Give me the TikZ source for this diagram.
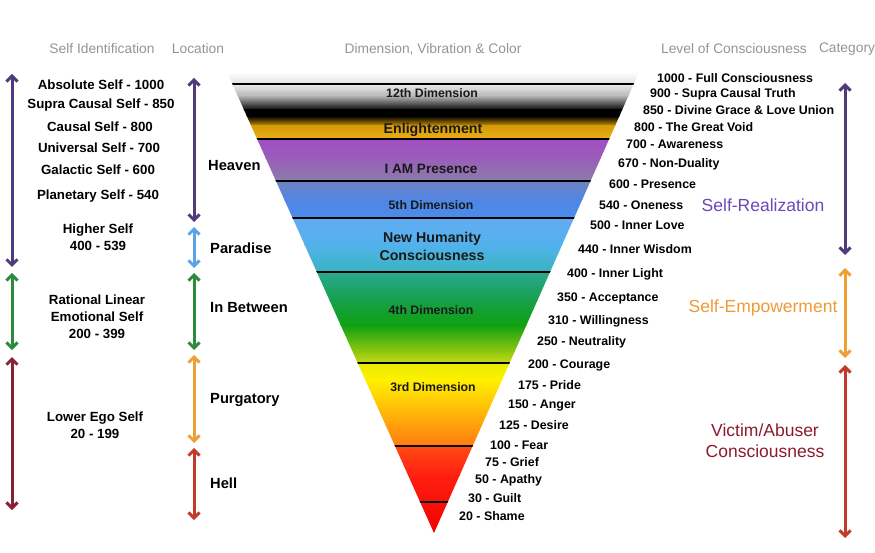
\documentclass[tikz,border=0pt]{standalone}
\usepackage{fontspec}
\setmainfont{Liberation Sans}
\usetikzlibrary{arrows.meta}

\definecolor{arrpurple}{HTML}{4D3B7E}
\definecolor{arrsky}{HTML}{5BA3E8}
\definecolor{arrgreen}{HTML}{2E8A3C}
\definecolor{arrmaroon}{HTML}{8A1F38}
\definecolor{arrorange}{HTML}{ECA035}
\definecolor{arrred}{HTML}{C3392A}
\definecolor{txtpurple}{HTML}{6B48B8}
\definecolor{txtorange}{HTML}{EE9A38}
\definecolor{txtmaroon}{HTML}{8B1A30}

\definecolor{goldA}{HTML}{D89C08}
\definecolor{goldB}{HTML}{EAAE14}
\definecolor{purA}{HTML}{A04FC2}
\definecolor{purB}{HTML}{9A5DBA}
\definecolor{purC}{HTML}{8A7DAA}
\definecolor{bluA}{HTML}{6E82C4}
\definecolor{bluB}{HTML}{4F86E4}
\definecolor{bluC}{HTML}{4A8CEC}
\definecolor{skyA}{HTML}{62ACF2}
\definecolor{skyB}{HTML}{52B2EC}
\definecolor{tealA}{HTML}{36B4BE}
\definecolor{tealB}{HTML}{2AA890}
\definecolor{grnA}{HTML}{15A04A}
\definecolor{grnB}{HTML}{10A010}
\definecolor{ylgA}{HTML}{C8DA10}
\definecolor{ylwA}{HTML}{E8EC00}
\definecolor{ylwB}{HTML}{FFF000}
\definecolor{orgA}{HTML}{FF7A10}
\definecolor{redA}{HTML}{FF4A12}
\definecolor{redB}{HTML}{FF2010}
\definecolor{redC}{HTML}{F00000}

\begin{document}
\begin{tikzpicture}[x=1pt, y=-1pt, inner sep=0pt,
    hdr/.style = {text=black!42, font=\fontsize{13.8}{16}\selectfont},
    self/.style = {font=\bfseries\fontsize{13.3}{17}\selectfont, align=center},
    loc/.style = {anchor=west, font=\bfseries\fontsize{14.7}{17}\selectfont},
    lvl/.style = {anchor=west, font=\bfseries\fontsize{12.4}{14}\selectfont},
    dim/.style = {text=black!90, font=\bfseries\fontsize{12.3}{18}\selectfont, align=center},
    cat/.style = {font=\fontsize{17.5}{21}\selectfont, align=center},
    span/.style = {line width=3pt, {Straight Barb[length=5.5pt,width=11pt]}-{Straight Barb[length=5.5pt,width=11pt]}}]

        \useasboundingbox (0,0) rectangle (875,553);

        % column heads
        \node[hdr] (hself) at (102,49) {Self Identification};
        \node[hdr] (hloc) at (198,49) {Location};
        \node[hdr] (hdim) at (433,49) {Dimension, Vibration \& Color};
        \node[hdr] (hlvl) at (734,49) {Level of Consciousness};
        \node[hdr] (hcat) at (847,49) {Category};

        % the cone
        \begin{scope}
            \clip (227,72) -- (639,72) -- (434,533) -- cycle;
            \foreach \ya/\yb/\ca/\cb in {72/84/white/gray!25, 84/96/gray!15/gray!60, 96/110/gray!60/black,
                    110/116/black/black, 116/126/black/goldA, 126/139/goldA/goldB,
                    139/158/purA/purB, 158/181/purB/purC, 181/200/bluA/bluB, 200/218/bluB/bluC,
                    218/245/skyA/skyB, 245/272/skyB/tealA, 272/300/tealB/grnA, 300/325/grnA/grnB,
                    325/363/grnB/ylgA, 363/380/ylwA/ylwB, 380/446/ylwB/orgA, 446/475/redA/redB,
                    475/533/redB/redC}
                \shade[top color=\ca, bottom color=\cb] (220,\ya) rectangle (650,\yb+0.6);
            \foreach \yy in {84,139,181,218,272,363,446,502}
                \draw[line width=1.2pt] (220,\yy) -- (650,\yy);
        \end{scope}

        \node[dim] (d12) at (432,93) {12th Dimension};
        \node[dim, font=\bfseries\fontsize{14.2}{16}\selectfont] (enl) at (433,130) {Enlightenment};
        \node[dim, font=\bfseries\fontsize{13.6}{16}\selectfont] (iam) at (431,169) {I AM Presence};
        \node[dim] (d5) at (431,205) {5th Dimension};
        \node[dim, font=\bfseries\fontsize{14.2}{18}\selectfont] (nhc) at (432,246) {New Humanity\\Consciousness};
        \node[dim] (d4) at (431,310) {4th Dimension};
        \node[dim] (d3) at (433,387) {3rd Dimension};

        % self identification
        \node[self] (s1000) at (101,85) {Absolute Self - 1000};
        \node[self] (s850) at (101,105) {Supra Causal Self - 850};
        \node[self] (s800) at (100,127) {Causal Self - 800};
        \node[self] (s700) at (99,148) {Universal Self - 700};
        \node[self] (s600) at (98,170) {Galactic Self - 600};
        \node[self] (s540) at (98,196) {Planetary Self - 540};
        \node[self] (shigh) at (98,237) {Higher Self\\400 - 539};
        \node[self] (srat) at (97,317) {Rational Linear\\Emotional Self\\200 - 399};
        \node[self] (sego) at (95,425) {Lower Ego Self\\20 - 199};

        \coordinate (sa) at (12,74);
        \coordinate (sb) at (12,267);
        \coordinate (sc) at (12,273);
        \coordinate (sd) at (12,350);
        \coordinate (se) at (12,357);
        \coordinate (sf) at (12,510);
        \draw[span, arrpurple] (sa) -- (sb);
        \draw[span, arrgreen] (sc) -- (sd);
        \draw[span, arrmaroon] (se) -- (sf);

        % location
        \node[loc] (heaven) at (208,166) {Heaven};
        \node[loc] (paradise) at (210,248) {Paradise};
        \node[loc] (between) at (210,308) {In Between};
        \node[loc] (purgatory) at (210,400) {Purgatory};
        \node[loc] (hell) at (210,483) {Hell};

        \coordinate (la) at (194,78);
        \coordinate (lb) at (194,222);
        \coordinate (lc) at (194,227);
        \coordinate (ld) at (194,268);
        \coordinate (le) at (194,273);
        \coordinate (lf) at (194,350);
        \coordinate (lg) at (194,355);
        \coordinate (lh) at (194,443);
        \coordinate (li) at (194,448);
        \coordinate (lj) at (194,520);
        \draw[span, arrpurple] (la) -- (lb);
        \draw[span, arrsky] (lc) -- (ld);
        \draw[span, arrgreen] (le) -- (lf);
        \draw[span, arrorange] (lg) -- (lh);
        \draw[span, arrred] (li) -- (lj);

        % level of consciousness
        \foreach \x/\y/\t [count=\i] in {657/78/1000 - Full Consciousness, 650/94/900 - Supra Causal Truth,
                643/110/850 - Divine Grace \& Love Union, 634/127/800 - The Great Void, 626/144/700 - Awareness,
                618/164/670 - Non-Duality, 609/184/600 - Presence, 599/205/540 - Oneness,
                590/225/500 - Inner Love, 578/249/440 - Inner Wisdom, 567/274/400 - Inner Light,
                557/298/350 - Acceptance, 548/321/310 - Willingness, 537/342/250 - Neutrality,
                528/365/200 - Courage, 518/385/175 - Pride, 508/405/150 - Anger, 499/425/125 - Desire,
                490/445/100 - Fear, 485/462/75 - Grief, 475/480/50 - Apathy, 468/498/30 - Guilt,
                459/516/20 - Shame}
            \node[lvl] (lv\i) at (\x,\y) {\t};

        % category
        \node[cat, text=txtpurple] (realize) at (763,205) {Self-Realization};
        \node[cat, text=txtorange] (empower) at (763,308) {Self-Empowerment};
        \node[cat, text=txtmaroon] (victim) at (765,441) {Victim/Abuser\\Consciousness};

        \coordinate (ca) at (845,83);
        \coordinate (cb) at (845,255);
        \coordinate (cc) at (845,268);
        \coordinate (cd) at (845,358);
        \coordinate (ce) at (845,365);
        \coordinate (cf) at (845,538);
        \draw[span, arrpurple] (ca) -- (cb);
        \draw[span, arrorange] (cc) -- (cd);
        \draw[span, arrred] (ce) -- (cf);

    \end{tikzpicture}
\end{document}
